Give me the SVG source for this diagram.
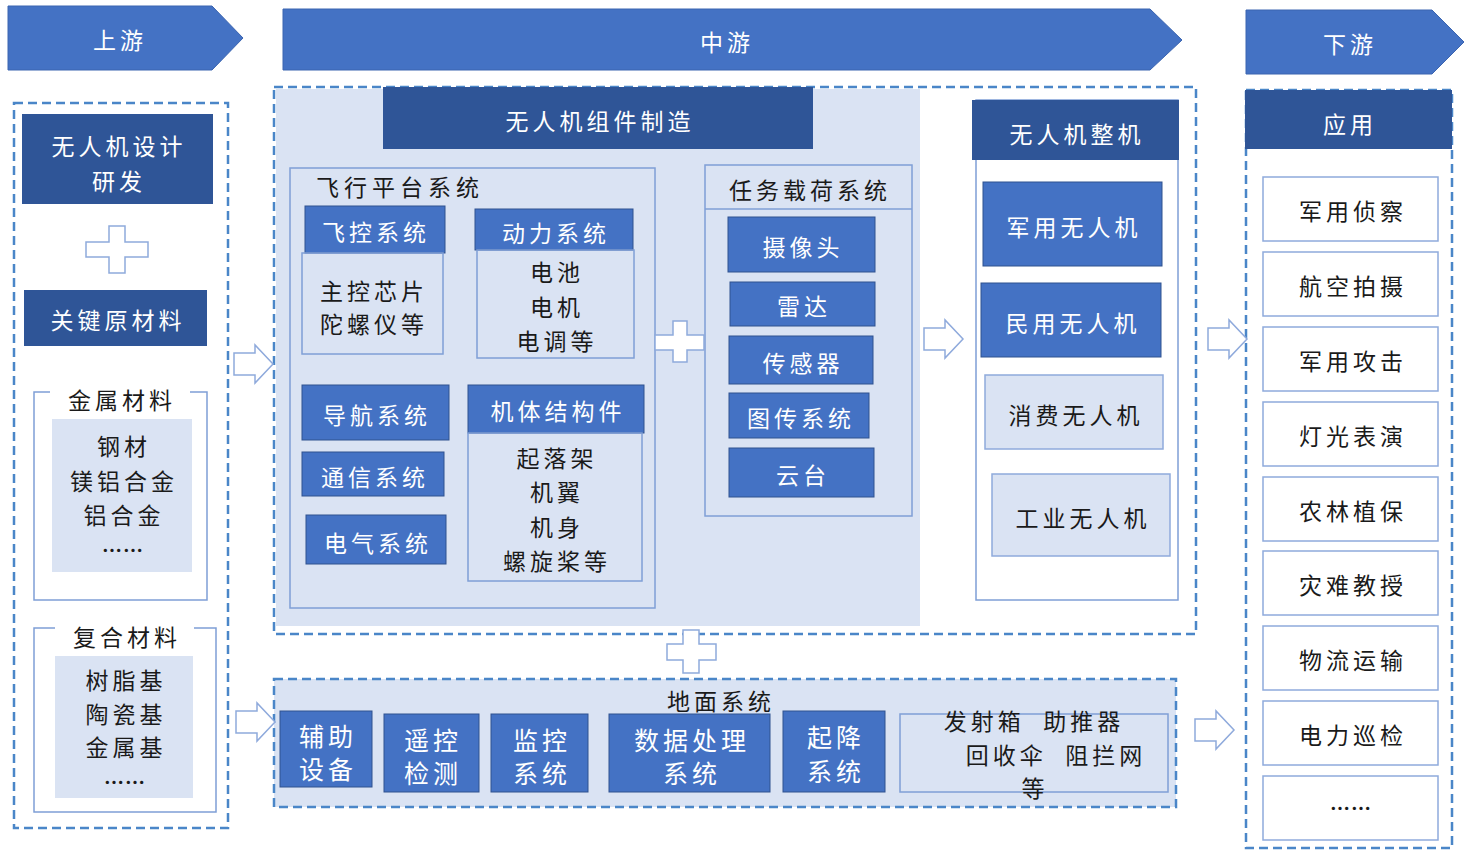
<svg xmlns="http://www.w3.org/2000/svg" xmlns:xlink="http://www.w3.org/1999/xlink" width="1468" height="861" viewBox="0 0 1468 861">
<style>
.t{font-family:"Noto Sans CJK SC","Noto Sans CJK JP",sans-serif;font-size:23px;text-anchor:middle;dominant-baseline:central;letter-spacing:4px}
.s{text-anchor:start}
.e{font-size:20px;letter-spacing:1px;font-weight:bold}
.w{fill:#fff}
.k{fill:#1a1a1a}
.dark{fill:#2F5597}
.mid{fill:#4472C4;stroke:#2F528F;stroke-width:1}
.light{fill:#DAE3F3}
.lo{fill:#DAE3F3;stroke:#8FAADC;stroke-width:1.5}
.ol{fill:none;stroke:#7F9FD6;stroke-width:1.5}
.wb{fill:#fff;stroke:#8FAADC;stroke-width:1.5}
.dash{fill:none;stroke:#4A86C8;stroke-width:2.5;stroke-dasharray:9 5}
.blk{fill:#fff;stroke:#8FAADC;stroke-width:1.5}
.ban{fill:#4472C4;stroke:#3A64B0;stroke-width:1}
</style>
<defs>
<path id="ba" d="M0,8 H21 V0 L39,19 L21,38 V30 H0 Z"/>
</defs>
<rect width="1468" height="861" fill="#fff"/>

<g id="banners">
<g id="up"><polygon class="ban" points="8,6 212,6 243,38 212,70 8,70"/><text class="t w" x="120" y="39">上游</text></g>
<g id="midstream"><polygon class="ban" points="283,9 1150,9 1182,40 1150,70 283,70"/><text class="t w" x="727" y="41">中游</text></g>
<g id="down"><polygon class="ban" points="1246,10 1432,10 1464,42 1432,74 1246,74"/><text class="t w" x="1350" y="43">下游</text></g>
</g>

<g id="upstream">
<rect class="dash" x="14" y="103" width="214" height="725"/>
<g id="design"><rect class="dark" x="22" y="114" width="191" height="90"/><text class="t w" x="119" y="145">无人机设计</text><text class="t w" x="119" y="180">研发</text></g>
<g id="material"><rect class="dark" x="24" y="290" width="183" height="56"/><text class="t w" x="118" y="319">关键原材料</text></g>
<g id="metal">
<polyline class="ol" points="50,392 34,392 34,600 207,600 207,392 190,392"/>
<text class="t k" x="122" y="399">金属材料</text>
<rect class="light" x="52" y="419" width="140" height="153"/>
<text class="t k" x="124" y="445">钢材</text><text class="t k" x="124" y="480">镁铝合金</text><text class="t k" x="124" y="514">铝合金</text><text class="t k e" x="123" y="549">……</text>
</g>
<g id="composite">
<polyline class="ol" points="55,628 34,628 34,812 216,812 216,628 194,628"/>
<text class="t k" x="127" y="636">复合材料</text>
<rect class="light" x="55" y="656" width="138" height="142"/>
<text class="t k" x="126" y="679">树脂基</text><text class="t k" x="126" y="713">陶瓷基</text><text class="t k" x="126" y="746">金属基</text><text class="t k e" x="125" y="781">……</text>
</g>
</g>

<g id="components">
<rect class="light" x="276" y="89" width="644" height="537"/>
<rect class="dash" x="274" y="87" width="922" height="547"/>
<g id="comp-head"><rect class="dark" x="383" y="87" width="430" height="62"/><text class="t w" x="600" y="120">无人机组件制造</text></g>
<g id="flight">
<rect class="ol" x="290" y="168" width="365" height="440"/>
<text class="t k s" x="316" y="186" style="letter-spacing:5px">飞行平台系统</text>
<g id="fc"><rect class="mid" x="305" y="206" width="140" height="47"/><text class="t w" x="376" y="231">飞控系统</text><rect class="ol" x="302" y="253" width="141" height="101"/><text class="t k" x="374" y="290">主控芯片</text><text class="t k" x="374" y="323">陀螺仪等</text></g>
<g id="power"><rect class="mid" x="475" y="209" width="158" height="41"/><text class="t w" x="556" y="232">动力系统</text><rect class="ol" x="477" y="250" width="157" height="108"/><text class="t k" x="557" y="271">电池</text><text class="t k" x="557" y="306">电机</text><text class="t k" x="557" y="340">电调等</text></g>
<g id="nav"><rect class="mid" x="302" y="385" width="147" height="55"/><text class="t w" x="377" y="414">导航系统</text></g>
<g id="comm"><rect class="mid" x="302" y="452" width="142" height="44"/><text class="t w" x="375" y="476">通信系统</text></g>
<g id="elec"><rect class="mid" x="306" y="515" width="140" height="49"/><text class="t w" x="378" y="542">电气系统</text></g>
<g id="airframe"><rect class="mid" x="468" y="385" width="176" height="48"/><text class="t w" x="558" y="410">机体结构件</text><rect class="ol" x="468" y="433" width="174" height="148"/><text class="t k" x="557" y="457">起落架</text><text class="t k" x="557" y="491">机翼</text><text class="t k" x="557" y="526">机身</text><text class="t k" x="557" y="560">螺旋桨等</text></g>
</g>
<g id="payload">
<rect class="ol" x="705" y="165" width="207" height="351"/>
<line class="ol" x1="705" y1="209" x2="912" y2="209"/>
<text class="t k" x="810" y="189">任务载荷系统</text>
<g id="cam"><rect class="mid" x="728" y="217" width="147" height="55"/><text class="t w" x="803" y="246">摄像头</text></g>
<g id="radar"><rect class="mid" x="730" y="282" width="145" height="44"/><text class="t w" x="804" y="305">雷达</text></g>
<g id="sensor"><rect class="mid" x="729" y="336" width="144" height="48"/><text class="t w" x="803" y="362">传感器</text></g>
<g id="imgtx"><rect class="mid" x="729" y="393" width="140" height="45"/><text class="t w" x="801" y="417">图传系统</text></g>
<g id="gimbal"><rect class="mid" x="729" y="448" width="145" height="49"/><text class="t w" x="803" y="474">云台</text></g>
</g>
</g>

<g id="whole">
<rect class="ol" x="976" y="100" width="202" height="500"/>
<g id="whole-head"><rect class="dark" x="972" y="100" width="207" height="60"/><text class="t w" x="1077" y="133">无人机整机</text></g>
<g id="mil"><rect class="mid" x="983" y="182" width="179" height="84"/><text class="t w" x="1074" y="226">军用无人机</text></g>
<g id="civ"><rect class="mid" x="981" y="283" width="180" height="74"/><text class="t w" x="1073" y="322">民用无人机</text></g>
<g id="cons"><rect class="lo" x="985" y="375" width="178" height="74"/><text class="t k" x="1076" y="414">消费无人机</text></g>
<g id="ind"><rect class="lo" x="992" y="474" width="178" height="82"/><text class="t k" x="1083" y="517">工业无人机</text></g>
</g>

<g id="apps">
<rect class="dash" x="1246" y="90" width="206" height="758"/>
<g id="app-head"><rect class="dark" x="1245" y="90" width="207" height="59"/><text class="t w" x="1350" y="123">应用</text></g>
<g id="a1"><rect class="wb" x="1263" y="177" width="175" height="64"/><text class="t k" x="1353" y="210">军用侦察</text></g>
<g id="a2"><rect class="wb" x="1263" y="252" width="175" height="64"/><text class="t k" x="1353" y="285">航空拍摄</text></g>
<g id="a3"><rect class="wb" x="1263" y="327" width="175" height="64"/><text class="t k" x="1353" y="360">军用攻击</text></g>
<g id="a4"><rect class="wb" x="1263" y="402" width="175" height="64"/><text class="t k" x="1353" y="435">灯光表演</text></g>
<g id="a5"><rect class="wb" x="1263" y="477" width="175" height="64"/><text class="t k" x="1353" y="510">农林植保</text></g>
<g id="a6"><rect class="wb" x="1263" y="551" width="175" height="64"/><text class="t k" x="1353" y="584">灾难教授</text></g>
<g id="a7"><rect class="wb" x="1263" y="626" width="175" height="64"/><text class="t k" x="1353" y="659">物流运输</text></g>
<g id="a8"><rect class="wb" x="1263" y="701" width="175" height="64"/><text class="t k" x="1353" y="734">电力巡检</text></g>
<g id="a9"><rect class="wb" x="1263" y="776" width="175" height="64"/><text class="t k e" x="1351" y="807">……</text></g>
</g>

<g id="ground">
<rect class="light" x="274" y="679" width="902" height="128"/>
<rect class="dash" x="274" y="679" width="902" height="128"/>
<text class="t k" x="721" y="700">地面系统</text>
<g id="g1"><rect class="mid" x="280" y="711" width="92" height="76"/><text class="t w" x="328" y="735" style="font-size:25px">辅助</text><text class="t w" x="328" y="768" style="font-size:25px">设备</text></g>
<g id="g2"><rect class="mid" x="384" y="714" width="95" height="78"/><text class="t w" x="433" y="739" style="font-size:25px">遥控</text><text class="t w" x="433" y="772" style="font-size:25px">检测</text></g>
<g id="g3"><rect class="mid" x="491" y="714" width="97" height="78"/><text class="t w" x="542" y="739" style="font-size:25px">监控</text><text class="t w" x="542" y="772" style="font-size:25px">系统</text></g>
<g id="g4"><rect class="mid" x="609" y="714" width="161" height="78"/><text class="t w" x="692" y="739" style="font-size:25px">数据处理</text><text class="t w" x="692" y="772" style="font-size:25px">系统</text></g>
<g id="g5"><rect class="mid" x="783" y="711" width="102" height="81"/><text class="t w" x="836" y="736" style="font-size:25px">起降</text><text class="t w" x="836" y="770" style="font-size:25px">系统</text></g>
<g id="g6"><rect class="ol" x="900" y="714" width="268" height="78"/><text class="t k" x="1034" y="720" xml:space="preserve">发射箱  助推器</text><text class="t k" x="1056" y="754" xml:space="preserve">回收伞  阻拦网</text><text class="t k" x="1035" y="787">等</text></g>
</g>

<g id="connectors">
<use xlink:href="#ba" class="blk" transform="translate(234,345)"/>
<use xlink:href="#ba" class="blk" transform="translate(236,703)"/>
<use xlink:href="#ba" class="blk" transform="translate(924,320)"/>
<use xlink:href="#ba" class="blk" transform="translate(1208,320)"/>
<use xlink:href="#ba" class="blk" transform="translate(1195,711)"/>
<path class="blk" d="M109,226 H125 V242 H148 V257 H125 V273 H109 V257 H86 V242 H109 Z"/>
<path class="blk" d="M673,321 H687 V335 H704 V350 H687 V362 H673 V350 H655 V335 H673 Z"/>
<path class="blk" d="M683,630 H699 V644 H716 V660 H699 V673 H683 V660 H667 V644 H683 Z"/>
</g>
</svg>
